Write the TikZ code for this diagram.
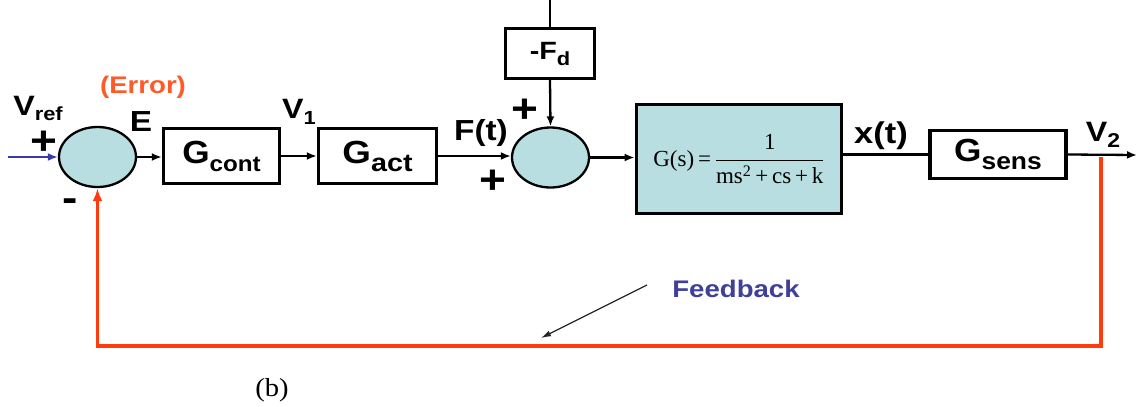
\documentclass[tikz,border=0pt]{standalone}
\usepackage{fontspec}
\setmainfont{Liberation Sans}
\newfontfamily\tnr{Liberation Serif}
\usepackage{amsmath}
\usetikzlibrary{shapes.geometric,arrows.meta}
\definecolor{sumfill}{HTML}{B9DEE1}
\definecolor{fbred}{HTML}{FF3C10}
\definecolor{inblue}{HTML}{3A3AA8}
\definecolor{fbtext}{HTML}{40409A}
\definecolor{errred}{HTML}{FF5A28}
\newcommand\hs[2][1.15]{\scalebox{#1}[1]{#2}}
\newcommand\fs[1]{\fontsize{#1}{#1}\selectfont}
\begin{document}
\begin{tikzpicture}[x=1pt,y=-1pt,
  box/.style={draw, line width=3.4pt, rectangle, inner sep=0pt},
  sumnode/.style={draw, line width=2.3pt, ellipse, fill=sumfill, minimum width=77pt, minimum height=60pt, inner sep=0pt},
  conn/.style={line width=2.3pt, -{Latex[length=10pt,width=8pt]}},
  plainline/.style={line width=2.3pt},
  fbline/.style={line width=3.8pt, fbred, line join=miter, -{Latex[length=13pt,width=10pt]}},
  pointer/.style={line width=1.2pt, black!85, -{Latex[length=10pt,width=6pt]}},
  lbl/.style={font=\bfseries, inner sep=0pt},
]
\useasboundingbox (0,0) rectangle (1138,407);
% blocks
\node[sumnode] (s1) at (97.5,157) {};
\node[sumnode] (s2) at (550.5,157.5) {};
\node[box, minimum width=116pt, minimum height=55pt, font=\bfseries] (gc) at (221.5,156)
  {\hs[1.1]{\fs{32}G\raisebox{-8pt}{\fs{22}cont}}};
\node[box, minimum width=118pt, minimum height=55pt, font=\bfseries] (ga) at (377.5,156)
  {\hs[1.15]{\fs{32}G\raisebox{-8pt}{\fs{25}act}}};
\node[box, minimum width=89pt, minimum height=50pt, font=\bfseries] (fd) at (550,53.5)
  {\hs{\fs{25}-F\raisebox{-6pt}{\fs{19}d}}};
\node[box, fill=sumfill, line width=3.8pt, minimum width=205pt, minimum height=109pt] (pl) at (739,159)
  {\tnr\fs{23}G(s)\,=\,$\dfrac{\text{1}}{\text{ms}^{\text{2}}\text{\,+\,cs\,+\,k}}$};
\node[box, minimum width=136pt, minimum height=48pt, font=\bfseries] (gs) at (998,154.5)
  {\hs[1.1]{\fs{32}G\raisebox{-8pt}{\fs{24}sens}}};
% coordinates
\coordinate (in) at (8,157);
\coordinate (top) at (550,0);
\coordinate (out) at (1137,155);
\coordinate (fbr) at (1101,157);
\coordinate (fbbr) at (1101,346);
\coordinate (fbbl) at (97.5,346);
\coordinate (fa1) at (647,285);
\coordinate (fa2) at (541,338);
% connectors
\draw[conn, inblue, line width=2.8pt] (in) -- (s1.west);
\draw[conn] (s1.east) -- (s1.east -| gc.west);
\draw[conn] (gc.east) -- (gc.east -| ga.west);
\draw[conn] (ga.east) -- (ga.east -| s2.west);
\draw[plainline] (top) -- (fd.north);
\draw[conn] (fd.south) -- (s2.north);
\draw[conn] (s2.east) -- (s2.east -| pl.west);
\draw[plainline] (pl.east |- gs.west) -- (gs.west);
\draw[conn] (gs.east) -- (out);
\draw[fbline] (fbr) -- (fbbr) -- (fbbl) -- (s1.south);
\draw[pointer] (fa1) -- (fa2);
% labels
\node[lbl] (vref) at (38,108) {\hs{\fs{28}V\raisebox{-5pt}{\fs{19}ref}}};
\node[lbl] (p1) at (44,143) {\hs{\fs{40}+}};
\node[lbl, text=errred] (err) at (143,87) {\hs{\fs{24}(Error)}};
\node[lbl] (e) at (141,122) {\hs{\fs{29}E}};
\node[lbl] (m1) at (70,205) {\hs{\fs{40}-}};
\node[lbl] (v1) at (299,112) {\hs{\fs{28}V\raisebox{-6pt}{\fs{19}1}}};
\node[lbl] (ft) at (481,133) {\hs{\fs{29}F(t)}};
\node[lbl] (p2) at (525,111) {\hs{\fs{40}+}};
\node[lbl] (p3) at (493,182) {\hs{\fs{40}+}};
\node[lbl] (xt) at (881,136) {\hs{\fs{30}x(t)}};
\node[lbl] (v2) at (1103,135) {\hs{\fs{28}V\raisebox{-6pt}{\fs{20}2}}};
\node[lbl, text=fbtext] (fbt) at (736,289) {\hs{\fs{24}Feedback}};
\node[inner sep=0pt, font=\tnr] (b) at (272,390) {\hs[1.1]{\fs{26}(b)}};
\end{tikzpicture}
\end{document}
